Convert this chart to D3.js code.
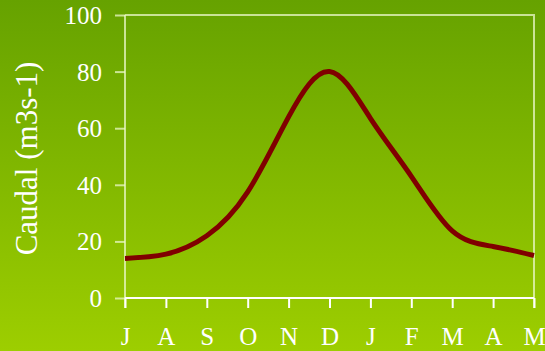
<!DOCTYPE html>
<html>
<head>
<meta charset="utf-8">
<script src="https://cdn.jsdelivr.net/npm/d3@7"></script>
<style>
  html, body { margin: 0; padding: 0; }
  svg { display: block; }
</style>
</head>
<body>
<svg id="chart" width="545" height="351"></svg>
<script>
// Monthly discharge, July through May
const months = ["J", "A", "S", "O", "N", "D", "J", "F", "M", "A", "M"];
const caudal = [14, 15.5, 22, 37.5, 64, 80, 63.5, 43, 23.7, 18.2, 15];
const yTicks = [0, 20, 40, 60, 80, 100];
const yLabel = "Caudal (m3s-1)";

const W = 545, H = 351;
const m = { left: 125, right: 11, top: 15, bottom: 53 };
const svg = d3.select("#chart");

// background gradient
const defs = svg.append("defs");
const grad = defs.append("linearGradient").attr("id", "bg")
  .attr("x1", 0).attr("y1", 0).attr("x2", 0).attr("y2", 1);
grad.append("stop").attr("offset", "0%").attr("stop-color", "#66a200");
grad.append("stop").attr("offset", "100%").attr("stop-color", "#9dce00");
svg.append("rect").attr("width", W).attr("height", H).attr("fill", "url(#bg)");

const x = d3.scalePoint().domain(d3.range(months.length))
  .range([m.left, W - m.right]);
const y = d3.scaleLinear().domain([0, 100]).range([H - m.bottom, m.top]);

const font = "'Liberation Serif', 'Times New Roman', serif";
const pale = "rgba(235,248,200,0.75)";

// plot frame: top and right
svg.append("path")
  .attr("d", `M${m.left},${y(100)}H${x(months.length - 1)}V${y(0) + 10}`)
  .attr("fill", "none").attr("stroke", pale).attr("stroke-width", 2);

// y axis
const yAxis = svg.append("g").attr("transform", `translate(${m.left},0)`)
  .call(d3.axisLeft(y).tickValues(yTicks).tickSize(10).tickPadding(13));
yAxis.select(".domain").remove();
yAxis.selectAll(".tick line").attr("stroke", pale).attr("stroke-width", 2);
yAxis.selectAll(".tick text").attr("fill", "#fff")
  .style("font-family", font).style("font-size", "25px").attr("dy", "0.34em");
svg.append("line")
  .attr("x1", m.left).attr("x2", m.left)
  .attr("y1", y(100)).attr("y2", y(0) + 10)
  .attr("stroke", pale).attr("stroke-width", 2);

// x axis
const xAxis = svg.append("g").attr("transform", `translate(0,${y(0)})`)
  .call(d3.axisBottom(x).tickFormat(i => months[i]).tickSize(10).tickPadding(19));
xAxis.select(".domain").attr("stroke", "#fff").attr("stroke-width", 2)
  .attr("d", `M${m.left},0H${x(months.length - 1)}`);
xAxis.selectAll(".tick line").attr("stroke", "#fff").attr("stroke-width", 2);
xAxis.selectAll(".tick text").attr("fill", "#fff")
  .style("font-family", font).style("font-size", "25px");

// y axis title
svg.append("text")
  .attr("transform", `translate(37,${(y(0) + y(100)) / 2 + 2}) rotate(-90)`)
  .attr("text-anchor", "middle")
  .attr("fill", "#fff")
  .style("font-family", font).style("font-size", "31px")
  .text(yLabel);

// discharge curve
const line = d3.line()
  .x((d, i) => x(i))
  .y(d => y(d))
  .curve(d3.curveNatural);
svg.append("path")
  .datum(caudal)
  .attr("d", line)
  .attr("fill", "none")
  .attr("stroke", "#800000")
  .attr("stroke-width", 5)
  .attr("stroke-linejoin", "round");
</script>
</body>
</html>
